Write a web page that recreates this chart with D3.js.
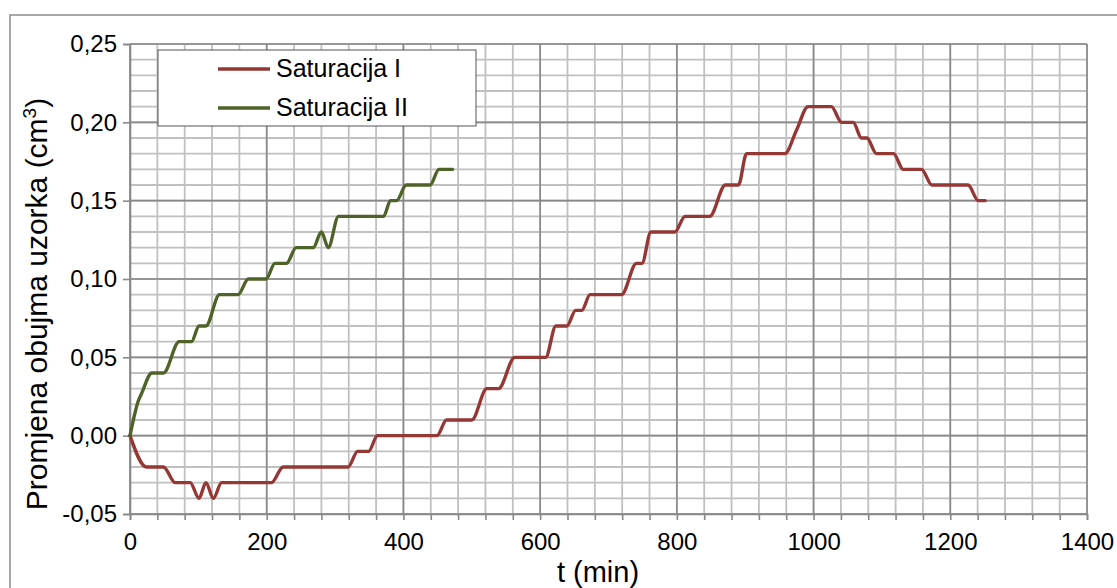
<!DOCTYPE html>
<html>
<head>
<meta charset="utf-8">
<script src="https://cdn.jsdelivr.net/npm/d3@7"></script>
<style>
  body { margin: 0; background: #fff; }
  svg { display: block; }
  text { font-family: "Liberation Sans", Arial, sans-serif; fill: #000; }
</style>
</head>
<body>
<svg id="chart" width="1117" height="588"></svg>
<script>
// ---- data ----
const seriesNames = ["Saturacija I", "Saturacija II"];
const tI = [0, 24, 49, 66, 88, 101, 111, 122, 134, 207, 224, 319, 333, 349, 362, 449, 463, 500, 522, 539, 563, 608, 623, 639, 652, 661, 673, 719, 741, 749, 762, 797, 812, 848, 871, 890, 902, 958, 975, 992, 1026, 1041, 1058, 1070, 1078, 1092, 1117, 1131, 1158, 1173, 1226, 1241, 1251];
const vI = [0, -0.02, -0.02, -0.03, -0.03, -0.04, -0.03, -0.04, -0.03, -0.03, -0.02, -0.02, -0.01, -0.01, 0, 0, 0.01, 0.01, 0.03, 0.03, 0.05, 0.05, 0.07, 0.07, 0.08, 0.08, 0.09, 0.09, 0.11, 0.11, 0.13, 0.13, 0.14, 0.14, 0.16, 0.16, 0.18, 0.18, 0.195, 0.21, 0.21, 0.20, 0.20, 0.19, 0.19, 0.18, 0.18, 0.17, 0.17, 0.16, 0.16, 0.15, 0.15];
const tII = [0, 12, 17, 32, 49, 72, 90, 101, 111, 131, 158, 173, 199, 212, 229, 243, 268, 280, 290, 305, 371, 381, 390, 404, 439, 452, 472];
const vII = [0, 0.022, 0.027, 0.04, 0.04, 0.06, 0.06, 0.07, 0.07, 0.09, 0.09, 0.10, 0.10, 0.11, 0.11, 0.12, 0.12, 0.13, 0.12, 0.14, 0.14, 0.15, 0.15, 0.16, 0.16, 0.17, 0.17];
const xTicks = [0, 200, 400, 600, 800, 1000, 1200, 1400];
const xMinor = d3.range(0, 1401, 40);
const yTicks = [-0.05, 0, 0.05, 0.10, 0.15, 0.20, 0.25];
const yMinor = d3.range(-5, 26, 1).map(d => d / 100);
const xTitle = "t (min)";
const yTitle = "Promjena obujma uzorka (cm";

// ---- layout ----
const svg = d3.select("#chart");
const L = 130, R = 1087, T = 44, B = 514;
const x = d3.scaleLinear().domain([0, 1400]).range([L, R]);
const y = d3.scaleLinear().domain([-0.05, 0.25]).range([B, T]);
const fmt = d => d3.format(".2f")(d).replace(".", ",").replace("\u2212", "-");

// outer chart border
svg.append("rect").attr("x", 10).attr("y", 15).attr("width", 1200).attr("height", 700)
  .attr("fill", "none").attr("stroke", "#8c8c8c").attr("stroke-width", 1.5);

const g = svg.append("g");
// minor grid
g.selectAll(".hmin").data(yMinor).join("line")
  .attr("x1", L).attr("x2", R).attr("y1", d => y(d)).attr("y2", d => y(d))
  .attr("stroke", "#c0c0c0").attr("stroke-width", 1.8);
g.selectAll(".vmin").data(xMinor).join("line")
  .attr("y1", T).attr("y2", B).attr("x1", d => x(d)).attr("x2", d => x(d))
  .attr("stroke", "#c0c0c0").attr("stroke-width", 1.8);
// major grid
g.selectAll(".hmaj").data(yTicks).join("line")
  .attr("x1", L).attr("x2", R).attr("y1", d => y(d)).attr("y2", d => y(d))
  .attr("stroke", "#888").attr("stroke-width", 1.6);
g.selectAll(".vmaj").data(xTicks).join("line")
  .attr("y1", T).attr("y2", B).attr("x1", d => x(d)).attr("x2", d => x(d))
  .attr("stroke", "#888").attr("stroke-width", 1.6);

// axes
const xAxis = d3.axisBottom(x).tickValues(xMinor).tickSize(6).tickFormat("");
svg.append("g").attr("transform", `translate(0,${B})`).call(xAxis)
  .call(s => s.select(".domain").attr("stroke", "#888").attr("stroke-width", 1.6))
  .call(s => s.selectAll(".tick line").attr("stroke", "#888").attr("stroke-width", 1.6));
const xLab = d3.axisBottom(x).tickValues(xTicks).tickSize(0).tickPadding(0).tickFormat(d3.format("d"));
svg.append("g").attr("transform", `translate(0,${B})`).call(xLab)
  .call(s => s.select(".domain").remove())
  .call(s => s.selectAll("text").attr("dy", null).attr("y", 36)
    .attr("font-size", 24).attr("font-family", "Liberation Sans, Arial"));

const yAxis = d3.axisLeft(y).tickValues(yTicks).tickSize(7).tickPadding(6).tickFormat(fmt);
svg.append("g").attr("transform", `translate(${L},0)`).call(yAxis)
  .call(s => s.select(".domain").attr("stroke", "#888").attr("stroke-width", 1.6))
  .call(s => s.selectAll(".tick line").attr("stroke", "#888").attr("stroke-width", 1.6))
  .call(s => s.selectAll("text").attr("font-size", 24).attr("font-family", "Liberation Sans, Arial"));

// titles
svg.append("text").attr("x", 598).attr("y", 582).attr("text-anchor", "middle")
  .attr("font-size", 29).text(xTitle);
const yt = svg.append("text").attr("transform", `translate(47,304) rotate(-90)`)
  .attr("text-anchor", "middle").attr("font-size", 30);
yt.append("tspan").text(yTitle);
yt.append("tspan").attr("dy", -11).attr("font-size", 19).text("3");
yt.append("tspan").attr("dy", 11).text(")");

// lines
const line = d3.line().x(d => x(d[0])).y(d => y(d[1])).curve(d3.curveMonotoneX);
const colors = ["#953735", "#4f6228"];
const data = [d3.zip(tI, vI), d3.zip(tII, vII)];
svg.selectAll(".series").data(data).join("path")
  .attr("d", line).attr("fill", "none")
  .attr("stroke", (d, i) => colors[i]).attr("stroke-width", 3.4)
  .attr("stroke-linejoin", "round").attr("stroke-linecap", "round");

// legend
const lg = svg.append("g");
lg.append("rect").attr("x", 158).attr("y", 50).attr("width", 318).attr("height", 76)
  .attr("fill", "#fff").attr("stroke", "#555").attr("stroke-width", 1);
seriesNames.forEach((n, i) => {
  const yy = 69 + i * 39;
  lg.append("line").attr("x1", 218).attr("x2", 270).attr("y1", yy).attr("y2", yy)
    .attr("stroke", colors[i]).attr("stroke-width", 3.4);
  lg.append("text").attr("x", 276).attr("y", yy + 8).attr("font-size", 25).text(n);
});
</script>
</body>
</html>
